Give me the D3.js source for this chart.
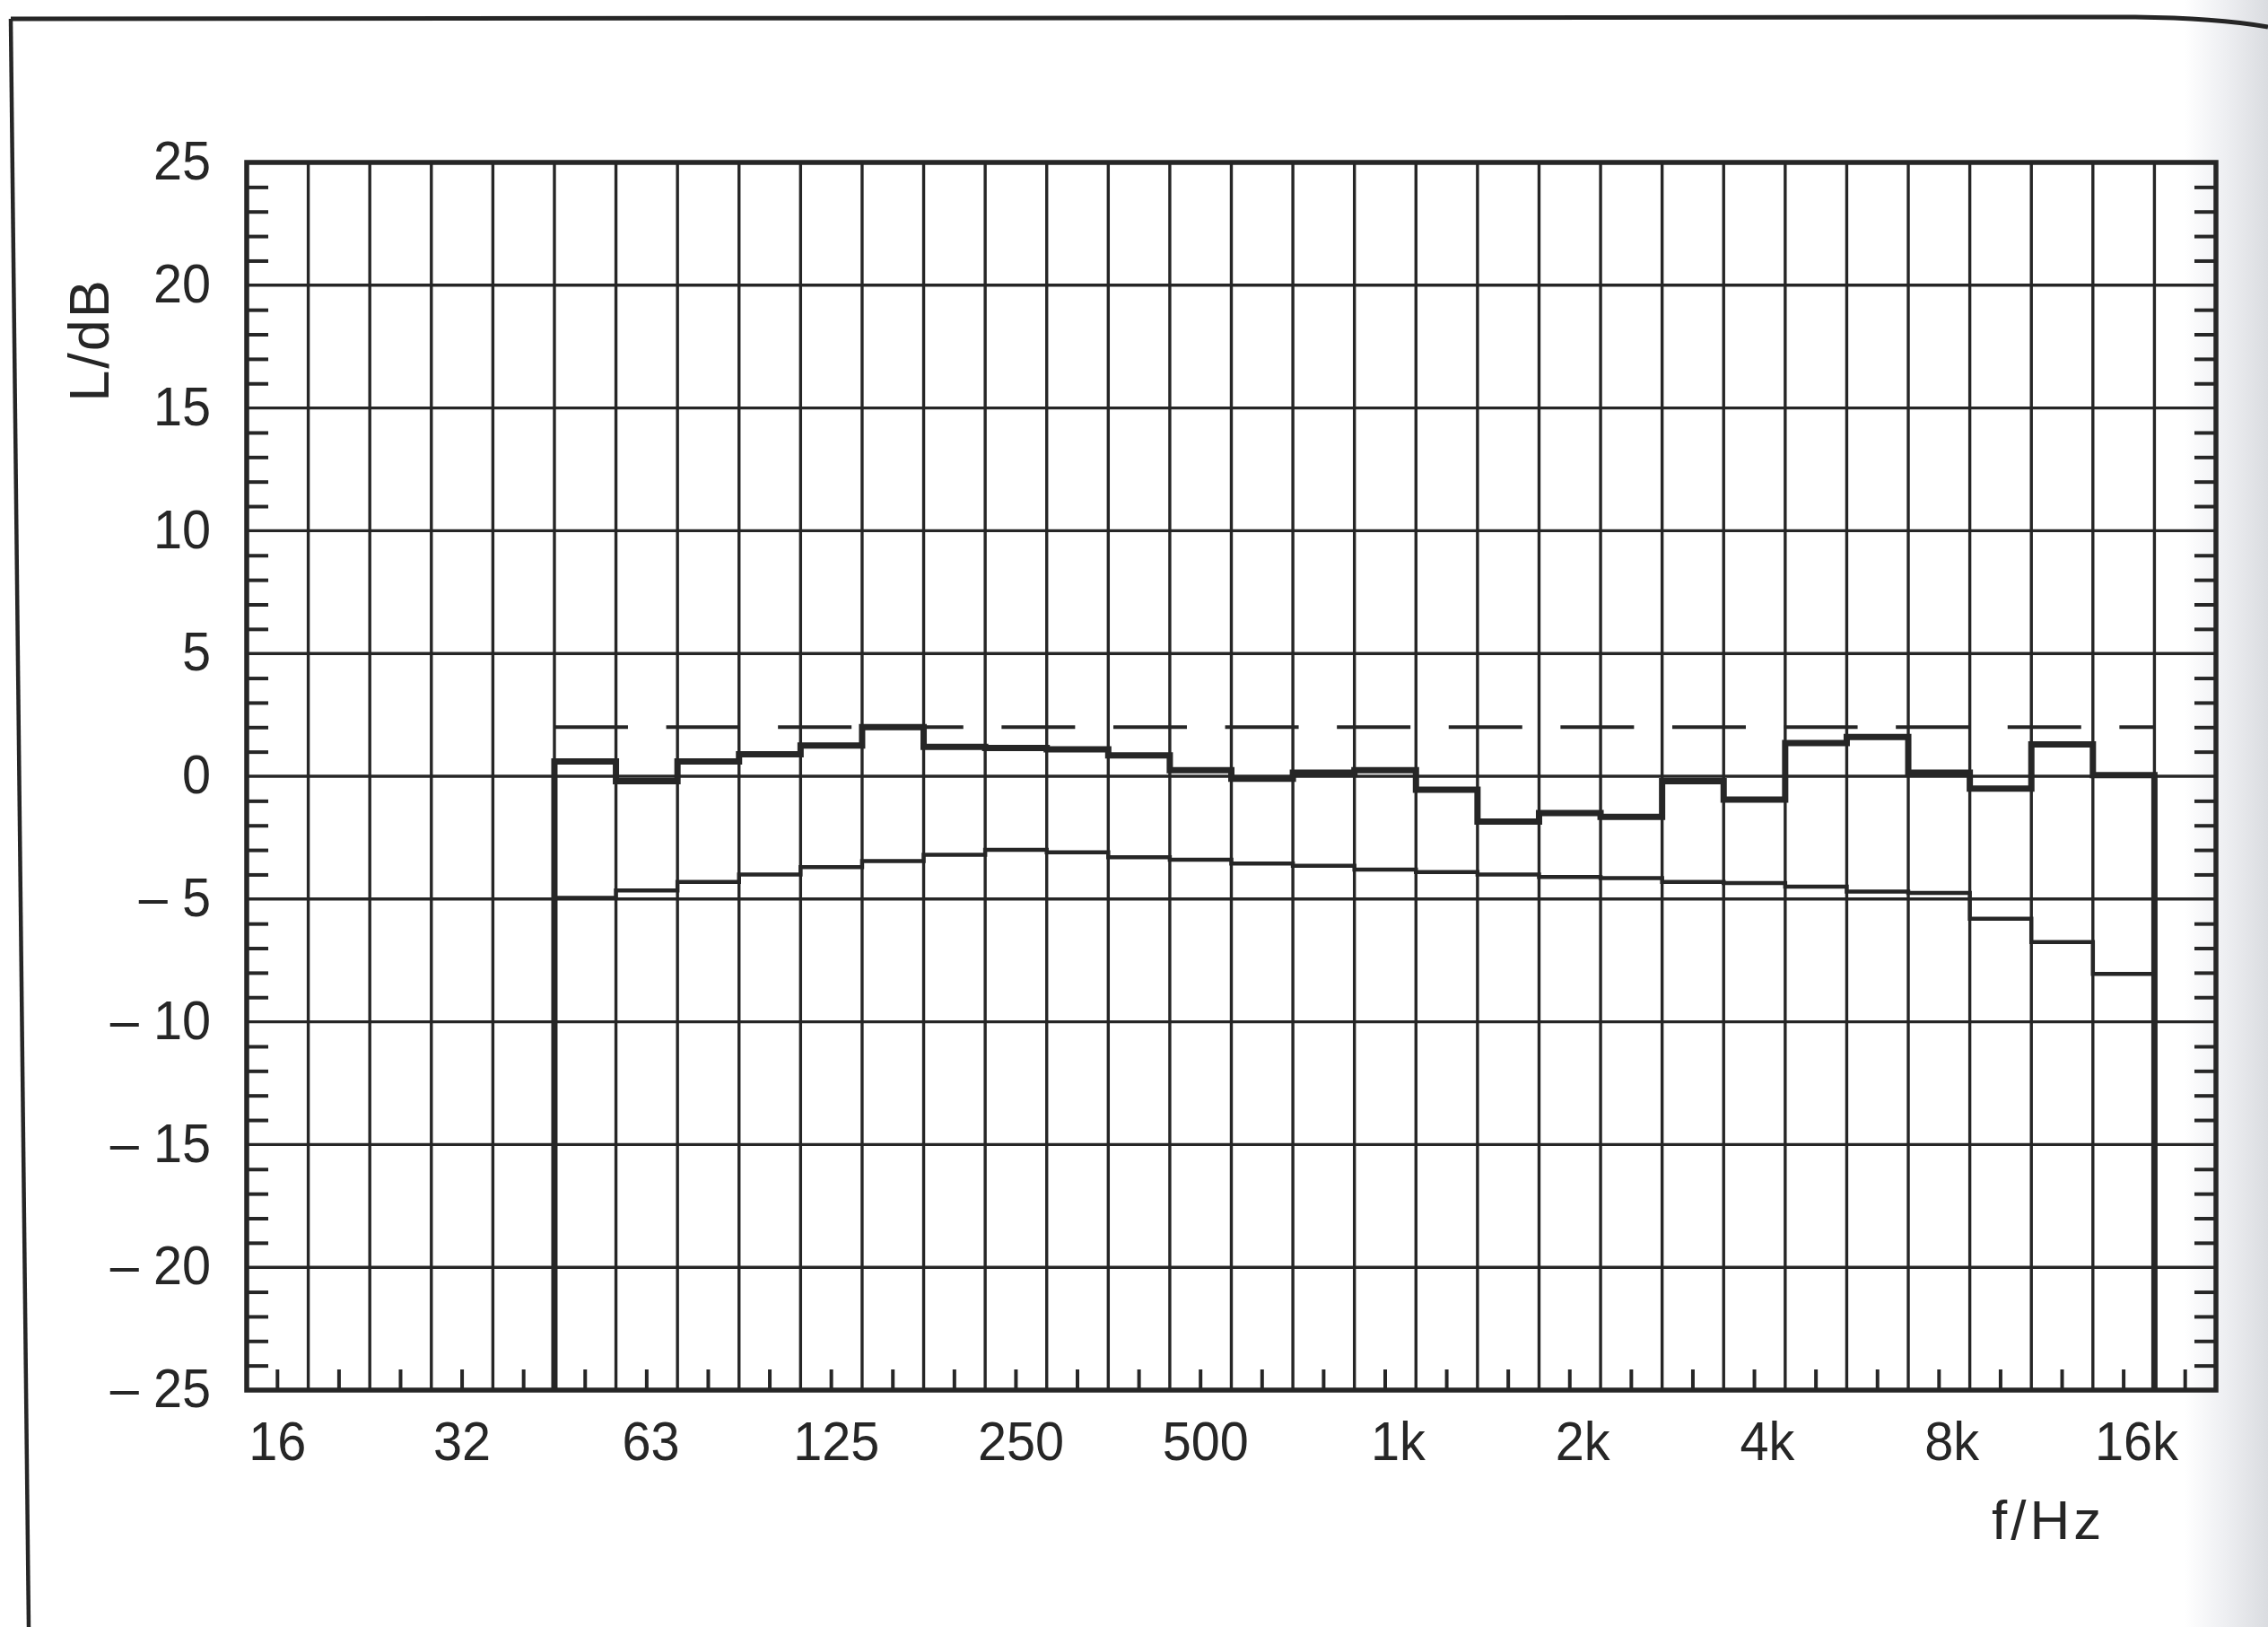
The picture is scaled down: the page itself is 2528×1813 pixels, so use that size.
<!DOCTYPE html>
<html><head><meta charset="utf-8">
<script src="https://cdn.jsdelivr.net/npm/d3@7"></script>
<style>html,body{margin:0;padding:0;background:#fff;} svg{display:block;}</style>
</head><body>
<svg id="chart" width="2528" height="1813"></svg>
<script>
// ---- data ----
const bands = ['16','20','25','31.5','40','50','63','80','100','125','160','200','250','315','400','500','630','800',
  '1k','1.25k','1.6k','2k','2.5k','3.15k','4k','5k','6.3k','8k','10k','12.5k','16k','20k'];
const dataBands = ['50','63','80','100','125','160','200','250','315','400','500','630','800',
  '1k','1.25k','1.6k','2k','2.5k','3.15k','4k','5k','6.3k','8k','10k','12.5k','16k'];
const upperLevel = [0.6,-0.2,0.6,0.9,1.25,2.0,1.2,1.15,1.1,0.85,0.25,-0.1,0.15,
  0.25,-0.55,-1.85,-1.5,-1.65,-0.2,-0.95,1.35,1.6,0.15,-0.5,1.3,0.05];
const lowerLevel = [-4.95,-4.65,-4.3,-4.0,-3.7,-3.45,-3.2,-3.0,-3.1,-3.3,-3.4,-3.55,-3.65,
  -3.8,-3.9,-4.0,-4.1,-4.15,-4.3,-4.35,-4.5,-4.7,-4.75,-5.8,-6.75,-8.05];
const referenceLevel = 2;
const xTickBands  = ['16','31.5','63','125','250','500','1k','2k','4k','8k','16k'];
const xTickLabels = ['16','32','63','125','250','500','1k','2k','4k','8k','16k'];
const yTicks = [25,20,15,10,5,0,-5,-10,-15,-20,-25];
const yLabel = 'L/dB';
const xLabel = 'f/Hz';

// ---- layout ----
const W = 2528, H = 1813;
const L = 275, R = 2470, T = 181, B = 1549;
const ink = '#262626';
const font = '"Liberation Sans", Arial, Helvetica, sans-serif';
const fs = 62, sx = 0.93;

const svg = d3.select('#chart');
const x = d3.scaleBand().domain(bands).range([L, R]).paddingInner(0).paddingOuter(0);
const y = d3.scaleLinear().domain([-25, 25]).range([B, T]);
const bw = x.bandwidth();

// page shading on the right edge
const defs = svg.append('defs');
const grad = defs.append('linearGradient').attr('id','shade').attr('x1','0').attr('x2','1').attr('y1','0').attr('y2','0');
grad.append('stop').attr('offset','0').attr('stop-color','#ffffff');
grad.append('stop').attr('offset','0.45').attr('stop-color','#eff0f3');
grad.append('stop').attr('offset','1').attr('stop-color','#dadce0');
svg.append('rect').attr('x',0).attr('y',0).attr('width',W).attr('height',H).attr('fill','#fff');
svg.append('rect').attr('x',2435).attr('y',0).attr('width',W-2435).attr('height',H).attr('fill','url(#shade)');

// page frame lines
svg.append('path').attr('d', `M12,21 L2380,19 Q2470,20 ${W},30`).attr('fill','none').attr('stroke',ink).attr('stroke-width',5);
svg.append('path').attr('d', `M12,21 L32,${H}`).attr('fill','none').attr('stroke',ink).attr('stroke-width',4.5);

// grid
const grid = svg.append('g').attr('stroke', ink).attr('stroke-width', 3.4);
grid.selectAll('line.v').data(bands.slice(1)).join('line').attr('class','v')
  .attr('x1', d => x(d)).attr('x2', d => x(d)).attr('y1', T).attr('y2', B);
grid.selectAll('line.h').data(yTicks.slice(1, -1)).join('line').attr('class','h')
  .attr('x1', L).attr('x2', R).attr('y1', d => y(d)).attr('y2', d => y(d));

// minor ticks (inside) left & right, band ticks at bottom
const minor = d3.range(-24, 25).filter(v => v % 5 !== 0);
const la = svg.append('g').attr('transform', `translate(${L},0)`)
  .call(d3.axisRight(y).tickValues(minor).tickSize(24).tickFormat(''));
const ra = svg.append('g').attr('transform', `translate(${R},0)`)
  .call(d3.axisLeft(y).tickValues(minor).tickSize(24).tickFormat(''));
const ba = svg.append('g').attr('transform', `translate(0,${B})`)
  .call(d3.axisTop(x).tickSize(23).tickFormat(''));
[la, ra, ba].forEach(g => {
  g.select('.domain').remove();
  g.selectAll('line').attr('stroke', ink).attr('stroke-width', 4);
});

// curves
const line = d3.line().x(d => d.x).y(d => y(d.v)).curve(d3.curveStepAfter);
const xEnd = x(dataBands[dataBands.length - 1]) + bw;
const upperPts = [{x: x(dataBands[0]), v: -25}]
  .concat(dataBands.map((b, i) => ({x: x(b), v: upperLevel[i]})))
  .concat([{x: xEnd, v: upperLevel[upperLevel.length - 1]}, {x: xEnd, v: -25}]);
const lowerPts = dataBands.map((b, i) => ({x: x(b), v: lowerLevel[i]}))
  .concat([{x: xEnd, v: lowerLevel[lowerLevel.length - 1]}]);

svg.append('path').attr('d', line(lowerPts)).attr('fill','none')
  .attr('stroke', ink).attr('stroke-width', 4.5).attr('stroke-linejoin','miter');
svg.append('path').attr('d', line(upperPts)).attr('fill','none')
  .attr('stroke', ink).attr('stroke-width', 7).attr('stroke-linejoin','miter');
svg.append('line').attr('x1', x(dataBands[0])).attr('x2', xEnd)
  .attr('y1', y(referenceLevel)).attr('y2', y(referenceLevel))
  .attr('stroke', ink).attr('stroke-width', 4).attr('stroke-dasharray', '82 42.6');

// border
svg.append('rect').attr('x', L).attr('y', T).attr('width', R - L).attr('height', B - T)
  .attr('fill','none').attr('stroke', ink).attr('stroke-width', 5.5);

// y labels
const fmtY = d => d < 0 ? '\u2013 ' + Math.abs(d) : String(d);
const yl = svg.append('g').attr('transform', `translate(${L},0)`)
  .call(d3.axisLeft(y).tickValues(yTicks).tickSize(0).tickPadding(43).tickFormat(fmtY));
yl.select('.domain').remove();
yl.attr('font-family', font).attr('font-size', fs);
yl.selectAll('text').attr('fill', ink).attr('dy', '0.3em').attr('transform', `scale(${sx},1)`);

// x labels (numeric part centred on the band, "k" hangs to the right)
const xl = svg.append('g').attr('transform', `translate(0,${B})`)
  .call(d3.axisBottom(x).tickValues(xTickBands).tickSize(0).tickPadding(0)
    .tickFormat(d => xTickLabels[xTickBands.indexOf(d)]));
xl.select('.domain').remove();
xl.attr('font-family', font).attr('font-size', fs);
xl.selectAll('text').each(function(d) {
  const t = d3.select(this);
  const s = xTickLabels[xTickBands.indexOf(d)];
  const n = s.replace('k', '').length;
  t.attr('fill', ink).attr('text-anchor', 'start').attr('dy', null).attr('y', 78)
   .attr('transform', `scale(${sx},1)`);
  const len = this.getSubStringLength(0, n);
  t.attr('x', -len / 2 + (n === 3 ? 6 : (s === '63' ? 5 : 0)));
});

// axis titles
svg.append('text').text(xLabel).attr('x', 2220).attr('y', 1715)
  .attr('font-family', font).attr('font-size', fs).attr('letter-spacing', 4).attr('fill', ink);
svg.append('text').text(yLabel).attr('transform', 'translate(121,379) rotate(-90)')
  .attr('text-anchor', 'middle').attr('font-family', font).attr('font-size', 63)
  .attr('letter-spacing', 2).attr('fill', ink);
</script>
</body></html>
